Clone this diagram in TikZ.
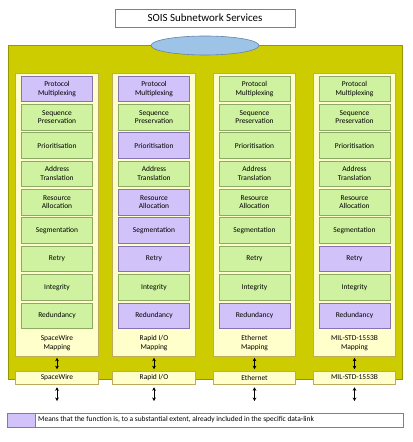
\documentclass[tikz,border=0pt]{standalone}
\usepackage{fontspec}
\setmainfont{Carlito}
\usetikzlibrary{arrows.meta,shapes.geometric}
\definecolor{oliveBg}{RGB}{204,204,0}
\definecolor{oliveLine}{RGB}{150,150,0}
\definecolor{creamFill}{RGB}{255,255,204}
\definecolor{creamLine}{RGB}{190,170,90}
\definecolor{greenFill}{RGB}{206,242,160}
\definecolor{greenLine}{RGB}{140,170,100}
\definecolor{purpFill}{RGB}{210,194,250}
\definecolor{purpLine}{RGB}{135,115,175}
\definecolor{ellFill}{RGB}{157,195,230}
\definecolor{ellLine}{RGB}{100,130,170}
\definecolor{titleLine}{RGB}{128,128,128}
\tikzset{
  small/.style={font=\fontsize{7.5}{8.8}\selectfont, align=center, inner sep=0pt},
  fbox/.style={small, draw=greenLine, fill=greenFill, line width=0.6pt, minimum width=71bp, minimum height=25.5bp},
  fg/.style={fbox},
  fp/.style={fbox, draw=purpLine, fill=purpFill},
  colbox/.style={draw=creamLine, fill=creamFill, line width=0.6pt, minimum width=82.5bp, minimum height=283bp, inner sep=0pt},
  dlbox/.style={small, draw=creamLine, fill=creamFill, line width=0.6pt, minimum width=82.5bp, minimum height=13bp},
  darr/.style={{Stealth[length=3.5bp,width=3.8bp]}-{Stealth[length=3.5bp,width=3.8bp]}, line width=1pt, black},
}
\begin{document}
\begin{tikzpicture}[x=1bp,y=-1bp]
\useasboundingbox (0,0) rectangle (412,442);
\fill[white] (0,0) rectangle (412,442);
% title
\node[draw=titleLine, fill=white, line width=0.6pt, minimum width=180bp, minimum height=18bp, inner sep=0pt, font=\fontsize{11}{13}\selectfont] (title) at (205,18) {SOIS Subnetwork Services};
% big olive area
\node[draw=oliveLine, fill=oliveBg, line width=0.5pt, minimum width=394bp, minimum height=334bp, inner sep=0pt] (bg) at (205,212) {};
\node[ellipse, draw=ellLine, fill=ellFill, line width=0.6pt, minimum width=108bp, minimum height=19bp, inner sep=0pt] (ell) at (205,45.5) {};
% columns
\foreach \i/\cx/\dl/\mp/\cols in {
  1/57/SpaceWire/SpaceWire/{fp,fg,fg,fg,fg,fg,fg,fg,fg},
  2/154/Rapid I\slash O/Rapid I\slash O/{fp,fg,fp,fg,fp,fp,fp,fg,fp},
  3/254.5/Ethernet/Ethernet/{fg,fg,fg,fg,fg,fg,fg,fg,fp},
  4/354.5/MIL-STD-1553B/MIL-STD-1553B/{fg,fg,fg,fg,fg,fg,fp,fg,fp}} {
  \node[colbox] (col\i) at (\cx,214.5) {};
  \foreach \st [count=\j from 0] in \cols {
    \pgfmathsetmacro{\ry}{88.75+28.35*\j}
    \ifcase\j
      \node[\st] (c\i r\j) at (\cx,\ry) {Protocol\\Multiplexing};
    \or
      \node[\st] (c\i r\j) at (\cx,\ry) {Sequence\\Preservation};
    \or
      \node[\st] (c\i r\j) at (\cx,\ry) {Prioritisation};
    \or
      \node[\st] (c\i r\j) at (\cx,\ry) {Address\\Translation};
    \or
      \node[\st] (c\i r\j) at (\cx,\ry) {Resource\\Allocation};
    \or
      \node[\st] (c\i r\j) at (\cx,\ry) {Segmentation};
    \or
      \node[\st] (c\i r\j) at (\cx,\ry) {Retry};
    \or
      \node[\st] (c\i r\j) at (\cx,\ry) {Integrity};
    \or
      \node[\st] (c\i r\j) at (\cx,\ry) {Redundancy};
    \fi
  }
  \node[small] (map\i) at (\cx,343) {\mp\\Mapping};
  \node[dlbox] (dl\i) at (\cx,377.5) {\dl};
  \coordinate (end\i) at (\cx,401);
  \draw[darr, shorten <=1.5bp, shorten >=1.5bp] (col\i.south) -- (dl\i.north);
  \draw[darr, shorten <=3bp] (dl\i.south) -- (end\i);
}
% legend
\node[draw=titleLine, fill=white, line width=0.6pt, minimum width=396bp, minimum height=14bp, inner sep=0pt] (leg) at (205,420) {};
\node[draw=purpLine, fill=purpFill, line width=0.6pt, minimum width=28bp, minimum height=14bp, inner sep=0pt] (sw) at (21,420) {};
\node[small, anchor=west] (legtxt) at (38,420) {Means that the function is, to a substantial extent, already included in the specific data-link};
\end{tikzpicture}
\end{document}
